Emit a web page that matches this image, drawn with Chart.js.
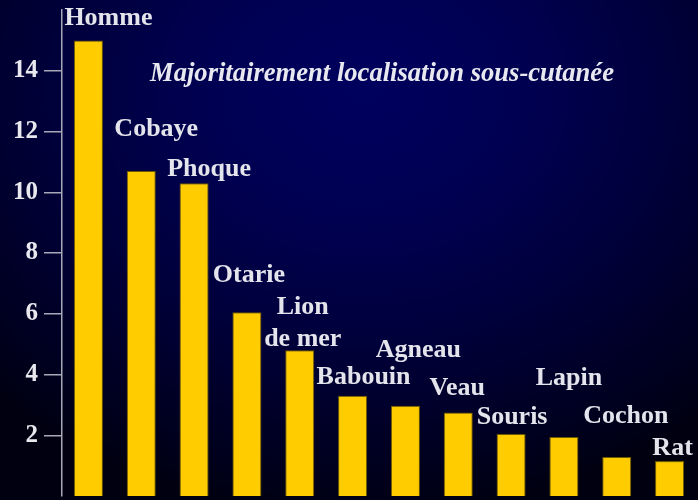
<!DOCTYPE html>
<html>
<head>
<meta charset="utf-8">
<script src="https://cdn.jsdelivr.net/npm/chart.js@4"></script>
<style>
  html, body { margin: 0; padding: 0; }
  body {
    width: 698px; height: 500px; overflow: hidden;
    background: radial-gradient(ellipse 75% 85% at 52% 18%, #00005e 0%, #000052 30%, #00003a 60%, #000018 95%, #000010 100%);
  }
  #wrap { position: relative; width: 698px; height: 500px; }
  canvas { display: block; }
</style>
</head>
<body>
<div id="wrap"><canvas id="c" width="698" height="500"></canvas></div>
<script>
const categories = ["Homme", "Cobaye", "Phoque", "Otarie", ["Lion", "de mer"], "Babouin", "Agneau", "Veau", "Souris", "Lapin", "Cochon", "Rat"];
const values = [15, 10.7, 10.3, 6.05, 4.8, 3.3, 2.97, 2.75, 2.04, 1.94, 1.28, 1.15];
const yTicks = [2, 4, 6, 8, 10, 12, 14];
const titleText = "Majoritairement localisation sous-cutanée";

// label placement relative to each bar top (dx, dy of last baseline)
const labelOffsets = [[20, -15], [15, -35], [15, -7], [2, -30], [3, -4], [11, -12], [13, -49], [-1, -17], [1, -10], [5, -52], [9, -34], [3, -6]];

const labelPlugin = {
  id: 'barLabels',
  afterDatasetsDraw(chart) {
    const ctx = chart.ctx;
    const meta = chart.getDatasetMeta(0);
    ctx.save();
    ctx.fillStyle = '#e4e4ec';
    ctx.font = 'bold 26px "Liberation Serif", "Times New Roman", serif';
    ctx.textAlign = 'center';
    ctx.textBaseline = 'alphabetic';
    meta.data.forEach((el, i) => {
      const lab = categories[i];
      const lines = Array.isArray(lab) ? lab : [lab];
      const [dx, dy] = labelOffsets[i];
      const n = lines.length;
      lines.forEach((ln, k) => {
        ctx.fillText(ln, el.x + dx, el.y + dy - (n - 1 - k) * 32.7);
      });
    });
    ctx.font = 'italic bold 26.6px "Liberation Serif", "Times New Roman", serif';
    ctx.textAlign = 'left';
    ctx.fillStyle = '#e8e8f0';
    ctx.fillText(titleText, chart.chartArea.left + 88, 81);
    ctx.restore();
  }
};

new Chart(document.getElementById('c'), {
  type: 'bar',
  data: {
    labels: categories,
    datasets: [{
      data: values,
      backgroundColor: '#ffcc00',
      borderColor: '#6e5800',
      borderWidth: 1,
      barPercentage: 0.55,
      categoryPercentage: 1.0
    }]
  },
  options: {
    responsive: false,
    animation: false,
    devicePixelRatio: 1,
    layout: { padding: { top: 10, bottom: 4, right: 2, left: 0 } },
    plugins: { legend: { display: false }, tooltip: { enabled: false }, title: { display: false } },
    scales: {
      x: { display: false, offset: true },
      y: {
        min: 0, max: 16,
        afterBuildTicks(scale) { scale.ticks = yTicks.map(v => ({ value: v })); },
        afterFit(scale) { scale.width = 62; scale.paddingTop = 0; scale.paddingBottom = 0; },
        border: { display: true, color: '#a8a8b8', width: 1.5 },
        grid: { drawOnChartArea: false, drawTicks: true, tickLength: 18, color: '#a8a8b8', lineWidth: 1.5 },
        ticks: {
          color: '#e8e8ee',
          padding: 6,
          font: { family: '"Liberation Serif", "Times New Roman", serif', size: 25, weight: 'bold' }
        }
      }
    }
  },
  plugins: [labelPlugin]
});
</script>
</body>
</html>
